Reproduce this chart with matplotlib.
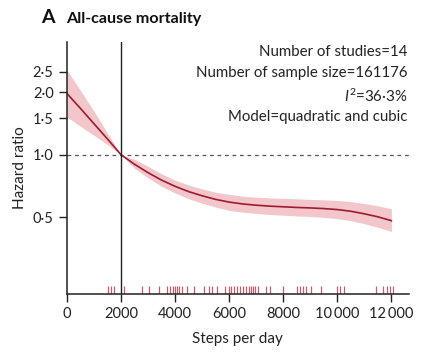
import numpy as np
import matplotlib.pyplot as plt
from matplotlib.transforms import blended_transform_factory

plt.rcParams['font.family'] = ['Lato', 'DejaVu Sans']
plt.rcParams['mathtext.fontset'] = 'custom'
plt.rcParams['mathtext.it'] = 'Lato:italic'
plt.rcParams['mathtext.rm'] = 'Lato'

# --------------------------
# data
# --------------------------
steps = [0, 500, 1000, 1500, 2000, 2500, 3000, 3500, 4000, 4500, 5000, 5500,
         6000, 6500, 7000, 7500, 8000, 8500, 9000, 9500, 10000, 10500,
         11000, 11500, 12000]
hr = [1.97, 1.67, 1.41, 1.19, 1.00, 0.90, 0.82, 0.755, 0.705, 0.665, 0.635,
      0.61, 0.592, 0.58, 0.572, 0.566, 0.562, 0.558, 0.555, 0.551, 0.545,
      0.535, 0.52, 0.503, 0.482]
hr_upper = [2.55, 2.04, 1.62, 1.27, 1.00, 0.95, 0.88, 0.81, 0.755, 0.715,
            0.685, 0.66, 0.645, 0.632, 0.625, 0.62, 0.617, 0.614, 0.61,
            0.607, 0.603, 0.595, 0.583, 0.568, 0.55]
hr_lower = [1.52, 1.37, 1.24, 1.12, 1.00, 0.86, 0.775, 0.705, 0.655, 0.615,
            0.585, 0.56, 0.54, 0.53, 0.522, 0.516, 0.512, 0.508, 0.505, 0.5,
            0.493, 0.482, 0.466, 0.448, 0.428]

# individual study data points (rug)
rug = [1519, 1630, 1753, 2099, 2778, 3025, 3395, 3704, 3827, 3926, 4012,
       4074, 4148, 4259, 4444, 4691, 5062, 5247, 5370, 5556, 5864, 5988,
       6074, 6173, 6296, 6420, 6519, 6630, 6728, 6815, 6889, 6975, 7062,
       7346, 7506, 8000, 8494, 8605, 8728, 8852, 9012, 9407, 9975, 10099,
       10247, 11420, 11691, 11827, 11951, 12062]

yticks = [0.5, 1.0, 1.5, 2.0, 2.5]
ytick_labels = ['0·5', '1·0', '1·5', '2·0', '2·5']
xticks = [0, 2000, 4000, 6000, 8000, 10000, 12000]
xtick_labels = ['0', '2000', '4000', '6000', '8000', '10\u2009000', '12\u2009000']

info = ['Number of studies=14', 'Number of sample size=161176',
        '$I^2$=36·3%', 'Model=quadratic and cubic']

# --------------------------
# plot
# --------------------------
fig = plt.figure(figsize=(4.26, 3.56), dpi=100)
ax = fig.add_axes([0.157, 0.174, 0.803, 0.708])

ax.fill_between(steps, hr_lower, hr_upper, color='#f2c6ca', lw=0)
ax.plot(steps, hr, color='#9e1a30', lw=1.2)
ax.axhline(1.0, color='#555555', lw=0.9, ls=(0, (3, 3)))
ax.axvline(2000, color='#222222', lw=1.0)

trans = blended_transform_factory(ax.transData, ax.transAxes)
ax.vlines(rug, 0.0, 0.032, color='#c0606e', lw=0.9, transform=trans)

ax.set_yscale('log')
ax.set_ylim(0.214, 3.48)
ax.set_xlim(0, 12650)
ax.set_yticks(yticks, labels=ytick_labels)
ax.minorticks_off()
ax.set_xticks(xticks, labels=xtick_labels)
ax.tick_params(labelsize=10.5, length=6, width=1, colors='#222222')

for s in ['top', 'right']:
    ax.spines[s].set_visible(False)
for s in ['left', 'bottom']:
    ax.spines[s].set_linewidth(1.1)
    ax.spines[s].set_color('#222222')

ax.set_xlabel('Steps per day', fontsize=11, color='#222222', labelpad=8)
ax.set_ylabel('Hazard ratio', fontsize=11, color='#222222')

for i, t in enumerate(info):
    ax.text(0.995, 0.99 - i * 0.086, t, transform=ax.transAxes, ha='right',
            va='top', fontsize=10.8, color='#222222')

fig.text(0.097, 0.935, 'A', fontsize=14, fontweight='bold', color='#111111')
fig.text(0.155, 0.935, 'All-cause mortality', fontsize=11.6,
         fontweight='bold', color='#111111')

plt.savefig('out.png', dpi=100)
